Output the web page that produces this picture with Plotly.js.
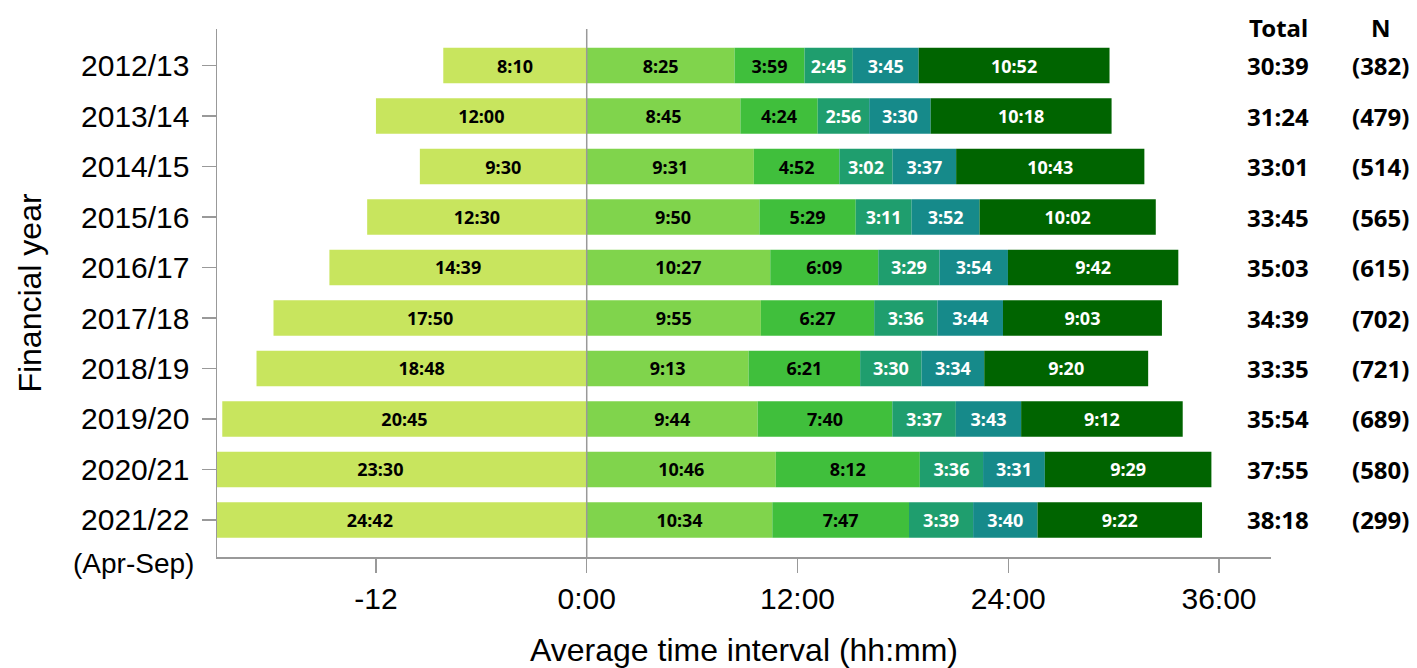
<!DOCTYPE html>
<html>
<head>
<meta charset="utf-8">
<script src="https://cdn.plot.ly/plotly-3.0.1.min.js"></script>
<style>
  html, body { margin: 0; padding: 0; background: #ffffff; }
  #chart { width: 1417px; height: 668px; }
</style>
</head>
<body>
<div id="chart"></div>
<script>
// ---- Data (hh:mm strings) ----
const years = ["2012/13","2013/14","2014/15","2015/16","2016/17","2017/18","2018/19","2019/20","2020/21","2021/22"];
const preInterval = ["8:10","12:00","9:30","12:30","14:39","17:50","18:48","20:45","23:30","24:42"];
const stage1 = ["8:25","8:45","9:31","9:50","10:27","9:55","9:13","9:44","10:46","10:34"];
const stage2 = ["3:59","4:24","4:52","5:29","6:09","6:27","6:21","7:40","8:12","7:47"];
const stage3 = ["2:45","2:56","3:02","3:11","3:29","3:36","3:30","3:37","3:36","3:39"];
const stage4 = ["3:45","3:30","3:37","3:52","3:54","3:44","3:34","3:43","3:31","3:40"];
const stage5 = ["10:52","10:18","10:43","10:02","9:42","9:03","9:20","9:12","9:29","9:22"];
const totals = ["30:39","31:24","33:01","33:45","35:03","34:39","33:35","35:54","37:55","38:18"];
const counts = ["(382)","(479)","(514)","(565)","(615)","(702)","(721)","(689)","(580)","(299)"];
const xTickVals = [-12, 0, 12, 24, 36];
const xTickText = ["-12", "0:00", "12:00", "24:00", "36:00"];

const colors = ["#c8e55e", "#80d44c", "#40bf3c", "#1f9e6e", "#168a8a", "#006400"];
const textColors = ["#000000", "#000000", "#000000", "#ffffff", "#ffffff", "#ffffff"];

function toHours(s) {
  const p = s.split(":");
  return parseInt(p[0], 10) + parseInt(p[1], 10) / 60;
}

const labelFont = "Noto Sans, Open Sans, DejaVu Sans, sans-serif";
const axisFont = "Liberation Sans, Arial, sans-serif";

function barTrace(values, idx, negative) {
  return {
    type: "bar",
    orientation: "h",
    y: years,
    x: values.map(v => negative ? -toHours(v) : toHours(v)),
    text: values,
    textposition: "inside",
    insidetextanchor: "middle",
    constraintext: "none",
    textangle: 0,
    insidetextfont: { family: labelFont, size: 18, color: textColors[idx], weight: "bold" },
    marker: { color: colors[idx], line: { width: 0 } },
    hoverinfo: "skip",
    showlegend: false,
    cliponaxis: true
  };
}

const data = [
  barTrace(preInterval, 0, true),
  barTrace(stage1, 1, false),
  barTrace(stage2, 2, false),
  barTrace(stage3, 3, false),
  barTrace(stage4, 4, false),
  barTrace(stage5, 5, false)
];

const annotations = [];
const boldFont = { family: labelFont, size: 24, color: "#000000", weight: "bold" };
annotations.push({ xref: "paper", yref: "paper", x: 1.0071, y: 1.0019, text: "Total",
  showarrow: false, xanchor: "center", yanchor: "middle", font: boldFont });
annotations.push({ xref: "paper", yref: "paper", x: 1.1039, y: 1.0019, text: "N",
  showarrow: false, xanchor: "center", yanchor: "middle", font: boldFont });
years.forEach((yr, i) => {
  annotations.push({ xref: "paper", yref: "y", x: 1.0071, y: yr, text: totals[i],
    showarrow: false, xanchor: "center", yanchor: "middle", font: boldFont });
  annotations.push({ xref: "paper", yref: "y", x: 1.1039, y: yr, text: counts[i],
    showarrow: false, xanchor: "center", yanchor: "middle", font: boldFont });
});
annotations.push({ xref: "paper", yref: "paper", x: -0.0195, y: -0.0114, text: "(Apr-Sep)",
  showarrow: false, xanchor: "right", yanchor: "middle",
  font: { family: axisFont, size: 28, color: "#000000" } });

const layout = {
  width: 1417,
  height: 668,
  margin: { l: 217, r: 146, t: 29, b: 111 },
  paper_bgcolor: "#ffffff",
  plot_bgcolor: "#ffffff",
  barmode: "relative",
  bargap: 0.3,
  showlegend: false,
  xaxis: {
    range: [-21.05, 38.96],
    tickmode: "array",
    tickvals: xTickVals,
    ticktext: xTickText,
    showgrid: false,
    zeroline: false,
    showline: true,
    linecolor: "#999999",
    linewidth: 1.5,
    ticks: "outside",
    ticklen: 14,
    tickwidth: 1.5,
    tickcolor: "#999999",
    tickfont: { family: axisFont, size: 30, color: "#000000" },
    title: { text: "Average time interval (hh:mm)", font: { family: axisFont, size: 32, color: "#000000" }, standoff: 40 },
    automargin: false,
    fixedrange: true
  },
  yaxis: {
    type: "category",
    categoryorder: "array",
    categoryarray: years,
    range: [9.733, -0.723],
    showgrid: false,
    zeroline: false,
    showline: true,
    linecolor: "#999999",
    linewidth: 1.5,
    ticks: "outside",
    ticklen: 14,
    tickwidth: 1.5,
    tickcolor: "#999999",
    ticklabelstandoff: 6,
    tickfont: { family: axisFont, size: 30, color: "#000000" },
    title: { text: "Financial year", font: { family: axisFont, size: 32, color: "#000000" }, standoff: 30 },
    automargin: false,
    fixedrange: true
  },
  shapes: [{
    type: "line", xref: "x", yref: "paper", x0: 0, x1: 0, y0: 0, y1: 1,
    line: { color: "#999999", width: 1.5 }, layer: "above"
  }],
  annotations: annotations
};

Plotly.newPlot("chart", data, layout, { displayModeBar: false, staticPlot: true });
</script>
</body>
</html>
